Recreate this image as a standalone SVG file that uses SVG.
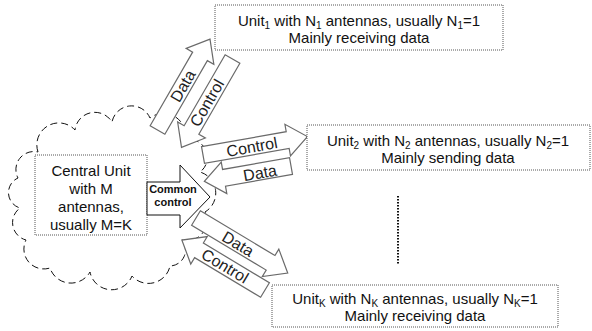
<svg xmlns="http://www.w3.org/2000/svg" width="592" height="331" viewBox="0 0 592 331">
<style>
text{font-family:"Liberation Sans",Arial,sans-serif;fill:#111}
.box{fill:#fff;stroke:#555;stroke-width:1;stroke-dasharray:1 1}
.cloud{fill:#fff;stroke:#111;stroke-width:1;stroke-dasharray:7 4}
.arr{fill:#fff;stroke:#6a6a6a;stroke-width:1.2;stroke-linejoin:miter}
.lbl{font-size:16px;text-anchor:middle;dominant-baseline:central;fill:#222}
.ut{font-size:15px;text-anchor:middle}
.sub{font-size:10px}
</style>
<rect width="592" height="331" fill="#fff"/>
<g id="cloud">
<path class="cloud" d="M38,152 A22,22 0 0 1 75,130 A20,20 0 0 1 112,122 A20,20 0 0 1 150,118 A22,22 0 0 1 185,140 A18,18 0 0 1 200,172 A22,22 0 0 1 205,212 A20,20 0 0 1 182,240 A16,16 0 0 1 170,266 A22,22 0 0 1 132,276 A22,22 0 0 1 90,272 A22,22 0 0 1 50,268 A20,20 0 0 1 26,240 A18,18 0 0 1 20,208 A16,16 0 0 1 18,178 A18,18 0 0 1 38,152 Z"/>
</g>
<g id="central">
<rect class="box" x="35" y="155" width="112" height="80"/>
<text class="ut" x="91" y="176">Central Unit</text>
<text class="ut" x="91" y="194">with M</text>
<text class="ut" x="91" y="212">antennas,</text>
<text class="ut" x="91" y="230">usually M=K</text>
</g>
<g id="connectors">
<g id="common">
<path d="M147,182 L180,182 L180,165 L210,197 L180,228 L180,215 L147,215 Z" fill="#fff" stroke="#111" stroke-width="1"/>
<text x="173" y="193" font-size="11" font-weight="bold" text-anchor="middle">Common</text>
<text x="173" y="206" font-size="11" font-weight="bold" text-anchor="middle">control</text>
</g>
<g id="data1">
<path class="arr" transform="translate(157.5,130) rotate(-60)" d="M0,-8.5 L85,-8.5 L85,-16 L105,0 L85,16 L85,8.5 L0,8.5 Z"/>
<text class="lbl" transform="translate(183,86) rotate(-60)">Data</text>
</g>
<g id="control1">
<path class="arr" transform="translate(232.5,59) rotate(120)" d="M0,-8.5 L82,-8.5 L82,-16 L102,0 L82,16 L82,8.5 L0,8.5 Z"/>
<text class="lbl" transform="translate(207,103) rotate(-60)">Control</text>
</g>
<g id="control2">
<path class="arr" transform="translate(203,155) rotate(-10)" d="M0,-8.5 L86,-8.5 L86,-16 L106,0 L86,16 L86,8.5 L0,8.5 Z"/>
<text class="lbl" transform="translate(252,147) rotate(-10)">Control</text>
</g>
<g id="data2">
<path class="arr" transform="translate(291,166) rotate(170)" d="M0,-8.5 L68,-8.5 L68,-16 L88,0 L68,16 L68,8.5 L0,8.5 Z"/>
<text class="lbl" transform="translate(260,173) rotate(-10)">Data</text>
</g>
<g id="dataK">
<path class="arr" transform="translate(196,218) rotate(31)" d="M0,-8.5 L87,-8.5 L87,-16 L107,0 L87,16 L87,8.5 L0,8.5 Z"/>
<text class="lbl" transform="translate(238,244) rotate(31)">Data</text>
</g>
<g id="controlK">
<path class="arr" transform="translate(265,290) rotate(211)" d="M0,-8.5 L77,-8.5 L77,-16 L97,0 L77,16 L77,8.5 L0,8.5 Z"/>
<text class="lbl" transform="translate(225,266) rotate(31)">Control</text>
</g>
<line x1="398" y1="196" x2="398" y2="265" stroke="#111" stroke-width="2" stroke-dasharray="1.5 1.5"/>
</g>
<g id="unit1">
<rect class="box" x="215" y="5" width="288" height="45"/>
<text class="ut" x="359" y="26">Unit<tspan class="sub" dy="3">1</tspan><tspan dy="-3"> with N</tspan><tspan class="sub" dy="3">1</tspan><tspan dy="-3"> antennas, usually N</tspan><tspan class="sub" dy="3">1</tspan><tspan dy="-3">=1</tspan></text>
<text class="ut" x="359" y="43">Mainly receiving data</text>
</g>
<g id="unit2">
<rect class="box" x="307" y="125" width="283" height="45"/>
<text class="ut" x="448" y="146">Unit<tspan class="sub" dy="3">2</tspan><tspan dy="-3"> with N</tspan><tspan class="sub" dy="3">2</tspan><tspan dy="-3"> antennas, usually N</tspan><tspan class="sub" dy="3">2</tspan><tspan dy="-3">=1</tspan></text>
<text class="ut" x="448" y="163">Mainly sending data</text>
</g>
<g id="unitK">
<rect class="box" x="272" y="285" width="286" height="42"/>
<text class="ut" x="415" y="304">Unit<tspan class="sub" dy="3">K</tspan><tspan dy="-3"> with N</tspan><tspan class="sub" dy="3">K</tspan><tspan dy="-3"> antennas, usually N</tspan><tspan class="sub" dy="3">K</tspan><tspan dy="-3">=1</tspan></text>
<text class="ut" x="415" y="321">Mainly receiving data</text>
</g>
</svg>
